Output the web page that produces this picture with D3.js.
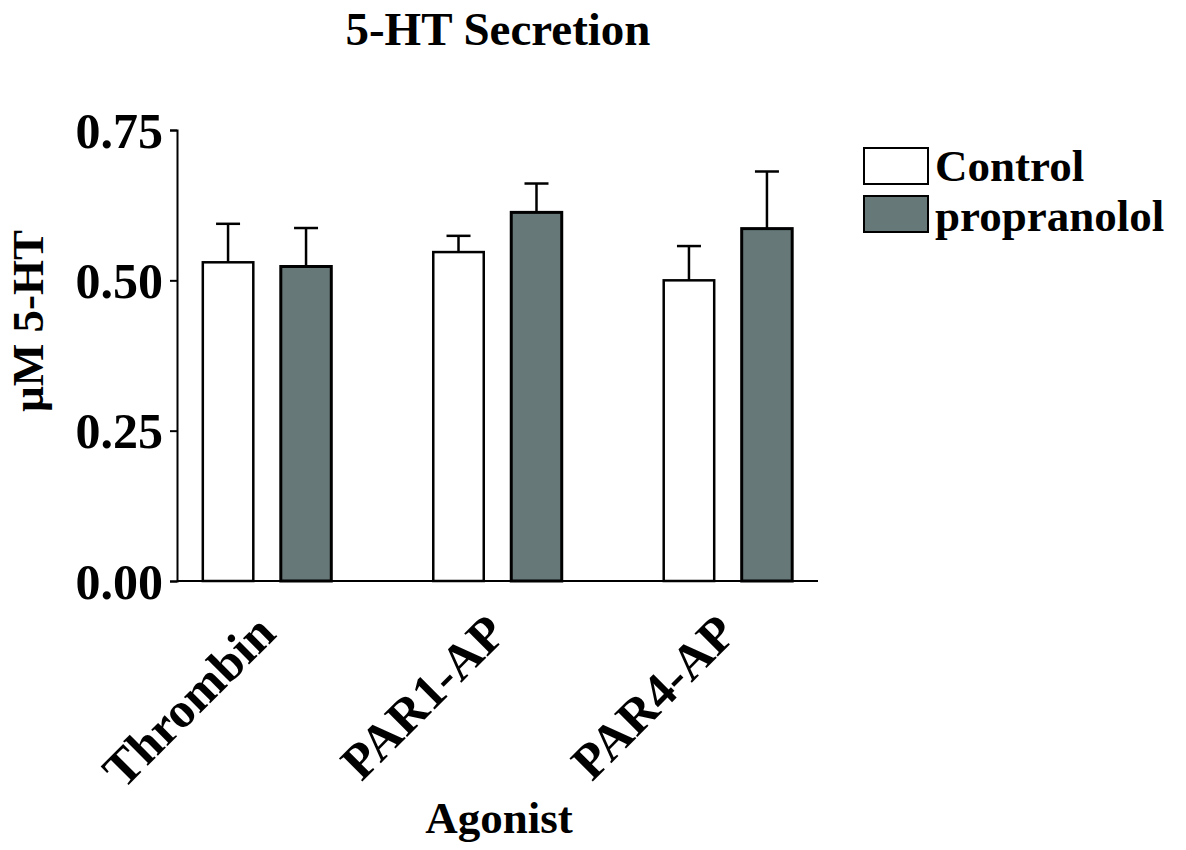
<!DOCTYPE html>
<html>
<head>
<meta charset="utf-8">
<script src="https://cdnjs.cloudflare.com/ajax/libs/d3/7.8.5/d3.min.js"></script>
<style>
  body { margin: 0; background: #fff; }
  text { font-family: "Liberation Serif", "Times New Roman", serif; font-weight: bold; fill: #000; }
</style>
</head>
<body>
<div id="chart"></div>
<script>
// data
var agonists = ["Thrombin", "PAR1-AP", "PAR4-AP"];
var seriesNames = ["Control", "propranolol"];
var controlMean = [0.530, 0.547, 0.500];
var controlErr = [0.064, 0.027, 0.057];
var propMean = [0.523, 0.613, 0.586];
var propErr = [0.064, 0.048, 0.095];
var yTicks = [0, 0.25, 0.5, 0.75];

var svgWidth = 1186;
var svgHeight = 850;
var colors = ["#ffffff", "#677878"];

var x0 = 177, x1 = 818, yTop = 130, yBottom = 581;

var svg = d3.select("#chart").append("svg")
    .attr("width", svgWidth)
    .attr("height", svgHeight);

var rows = agonists.map(function(a, i) {
    return {
        agonist: a,
        values: [
            {key: seriesNames[0], mean: controlMean[i], err: controlErr[i]},
            {key: seriesNames[1], mean: propMean[i], err: propErr[i]}
        ]
    };
});

var x = d3.scaleBand()
    .domain(agonists)
    .range([x0, x1])
    .paddingInner(0.4425)
    .paddingOuter(0.112);

var xInner = d3.scaleBand()
    .domain(seriesNames)
    .range([0, x.bandwidth()])
    .paddingInner(0.3526);

var y = d3.scaleLinear()
    .domain([0, 0.75])
    .range([yBottom, yTop]);

var color = d3.scaleOrdinal()
    .domain(seriesNames)
    .range(colors);

// title
svg.append("text")
    .attr("x", 498)
    .attr("y", 45)
    .attr("text-anchor", "middle")
    .style("font-size", "47px")
    .text("5-HT Secretion");

// bars
var group = svg.selectAll(".group")
    .data(rows)
    .enter().append("g")
    .attr("class", "group")
    .attr("transform", function(d) { return "translate(" + x(d.agonist) + ",0)"; });

var bar = group.selectAll(".bar")
    .data(function(d) { return d.values; })
    .enter().append("g")
    .attr("class", "bar");

// error whiskers (upper only)
bar.append("line")
    .attr("x1", function(d) { return xInner(d.key) + xInner.bandwidth() / 2; })
    .attr("x2", function(d) { return xInner(d.key) + xInner.bandwidth() / 2; })
    .attr("y1", function(d) { return y(d.mean); })
    .attr("y2", function(d) { return y(d.mean + d.err); })
    .attr("stroke", "#000")
    .attr("stroke-width", 2.5);

bar.append("line")
    .attr("x1", function(d) { return xInner(d.key) + xInner.bandwidth() / 2 - 12; })
    .attr("x2", function(d) { return xInner(d.key) + xInner.bandwidth() / 2 + 12; })
    .attr("y1", function(d) { return y(d.mean + d.err); })
    .attr("y2", function(d) { return y(d.mean + d.err); })
    .attr("stroke", "#000")
    .attr("stroke-width", 2.5);

bar.append("rect")
    .attr("x", function(d) { return xInner(d.key); })
    .attr("y", function(d) { return y(d.mean); })
    .attr("width", xInner.bandwidth())
    .attr("height", function(d) { return y(0) - y(d.mean); })
    .attr("fill", function(d) { return color(d.key); })
    .attr("stroke", "#000")
    .attr("stroke-width", function(d) { return d.key == "Control" ? 2.5 : 3; });

// axes
var yAxis = d3.axisLeft(y)
    .tickValues(yTicks)
    .tickFormat(d3.format(".2f"))
    .tickSize(7)
    .tickPadding(7);

var gy = svg.append("g")
    .attr("class", "y axis")
    .attr("transform", "translate(" + x0 + ",0)")
    .call(yAxis);
gy.select(".domain").attr("stroke-width", 2);
gy.selectAll(".tick line").attr("stroke-width", 2);
gy.selectAll(".tick text")
    .style("font-size", "50px")
    .style("font-family", "Liberation Serif, serif")
    .style("font-weight", "bold")
    .attr("dy", "0.34em");

svg.append("line")
    .attr("x1", x0)
    .attr("x2", x1)
    .attr("y1", y(0))
    .attr("y2", y(0))
    .attr("stroke", "#000")
    .attr("stroke-width", 2);

// category labels, rotated
svg.selectAll(".xlabel")
    .data(agonists)
    .enter().append("text")
    .attr("class", "xlabel")
    .attr("text-anchor", "end")
    .attr("dy", "0.7em")
    .style("font-size", "50px")
    .attr("transform", function(d) {
        return "translate(" + (x(d) + x.bandwidth() / 2 - 14) + ",611) rotate(-45)";
    })
    .text(function(d) { return d; });

// axis titles
svg.append("text")
    .attr("x", 499)
    .attr("y", 833)
    .attr("text-anchor", "middle")
    .style("font-size", "45px")
    .text("Agonist");

svg.append("text")
    .attr("transform", "translate(43,321) rotate(-90)")
    .attr("text-anchor", "middle")
    .style("font-size", "45px")
    .text("\u00B5M 5-HT");

// legend
var legend = svg.append("g")
    .attr("class", "legend")
    .attr("transform", "translate(864,148)");

legend.selectAll("rect")
    .data(seriesNames)
    .enter().append("rect")
    .attr("x", 0)
    .attr("y", function(d, i) { return i * 48; })
    .attr("width", 64)
    .attr("height", 36)
    .attr("fill", function(d) { return color(d); })
    .attr("stroke", "#000")
    .attr("stroke-width", 2);

legend.selectAll("text")
    .data(seriesNames)
    .enter().append("text")
    .attr("x", 71)
    .attr("y", function(d, i) { return 33 + i * 50; })
    .style("font-size", "45px")
    .text(function(d) { return d; });
</script>
</body>
</html>
